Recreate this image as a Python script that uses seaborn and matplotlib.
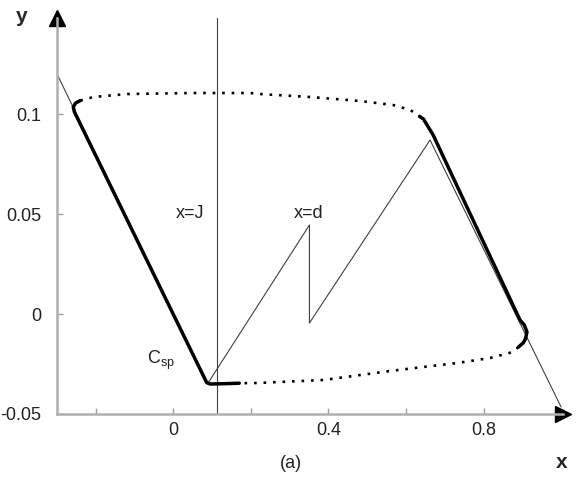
import matplotlib
matplotlib.use('Agg')
import matplotlib.pyplot as plt
import seaborn as sns
import pandas as pd

# limit cycle, thick parts (left branch with its corners, right branch)
left_x = [0.17, 0.14, 0.095, 0.086, -0.255, -0.258, -0.252, -0.24]
left_y = [-0.0346, -0.0348, -0.035, -0.0343, 0.101, 0.1035, 0.1055, 0.1067]
right_x = [0.635, 0.645, 0.67, 0.894, 0.905, 0.912, 0.908, 0.902, 0.89]
right_y = [0.0988, 0.0975, 0.0895, -0.003, -0.0055, -0.009, -0.0125, -0.0145, -0.0165]

# limit cycle, dotted parts (top and bottom)
top_x = [-0.24, -0.206, -0.119, 0.052, 0.198, 0.224, 0.353, 0.482, 0.567, 0.611, 0.635]
top_y = [0.1067, 0.1085, 0.110, 0.1105, 0.1105, 0.110, 0.1085, 0.1065, 0.1045, 0.102, 0.0988]
bottom_x = [0.89, 0.876, 0.817, 0.732, 0.644, 0.559, 0.387, 0.216, 0.17]
bottom_y = [-0.0165, -0.019, -0.022, -0.0245, -0.0265, -0.0285, -0.033, -0.0345, -0.0346]

# thin sawtooth trajectory
traj_x = [-0.3, 0.088, 0.351, 0.351, 0.662, 1.0]
traj_y = [0.12, -0.035, 0.0445, -0.0045, 0.087, -0.0465]

J = 0.113
x_ticks = [0, 0.4, 0.8]
x_minor = [-0.2, 0.2, 0.6]
y_ticks = [-0.05, 0, 0.05, 0.1]
y_labels = ['-0.05', '0', '0.05', '0.1']

sns.set_style('white')
plt.rcParams['font.family'] = ['Liberation Sans', 'DejaVu Sans']
plt.rcParams['mathtext.fontset'] = 'custom'
plt.rcParams['mathtext.rm'] = 'Liberation Sans'

fig = plt.figure(figsize=(5.81, 4.79), dpi=100)
ax = fig.add_axes([0.0981, 0.1357, 0.871, 0.8267])

sns.lineplot(x=traj_x, y=traj_y, sort=False, estimator=None, color='#404040', lw=0.8, ax=ax)
sns.lineplot(x=[J, J], y=[-0.05, 0.148], sort=False, estimator=None, color='#404040', lw=0.8, ax=ax)

for xs, ys in [(left_x, left_y), (right_x, right_y)]:
    df = pd.DataFrame({'x': xs, 'y': ys})
    sns.lineplot(data=df, x='x', y='y', sort=False, estimator=None, color='black', lw=2.5, ax=ax,
                 solid_capstyle='round', solid_joinstyle='round')
for xs, ys in [(top_x, top_y), (bottom_x, bottom_y)]:
    df = pd.DataFrame({'x': xs, 'y': ys})
    sns.lineplot(data=df, x='x', y='y', sort=False, estimator=None, color='black', lw=1.9, ax=ax,
                 linestyle=(0, (1.0, 2.6)))

ax.set_xlim(-0.3, 1.005)
ax.set_ylim(-0.05, 0.148)
ax.set_xticks(x_ticks)
ax.set_xticklabels(['0', '0.4', '0.8'])
ax.set_xticks(x_minor, minor=True)
ax.set_yticks(y_ticks)
ax.set_yticklabels(y_labels)
ax.set_xlabel('')
ax.set_ylabel('')

for s in ['top', 'right']:
    ax.spines[s].set_visible(False)
for s in ['left', 'bottom']:
    ax.spines[s].set_color('#b0b0b0')
    ax.spines[s].set_linewidth(1.8)
ax.tick_params(which='both', direction='in', length=4, width=1, color='#a0a0a0',
               labelsize=13, labelcolor='#222222')
ax.tick_params(axis='x', which='both', bottom=True, pad=6)
ax.tick_params(axis='y', left=True, pad=11)

# axis arrow heads
ax.plot([1], [0], marker='>', ms=12, color='black', transform=ax.transAxes, clip_on=False)
ax.plot([0], [1], marker='^', ms=12, color='black', transform=ax.transAxes, clip_on=False)

ax.text(0.044, 0.0505, 'x=J', ha='center', va='center', fontsize=13, color='#222222')
ax.text(0.348, 0.0505, 'x=d', ha='center', va='center', fontsize=13, color='#222222')
ax.text(-0.067, -0.023, r'C$_{\mathregular{sp}}$', ha='left', va='center', fontsize=13, color='#222222')

fig.text(562 / 581, 1 - 462 / 479, 'x', ha='center', va='center', fontsize=15, fontweight='bold')
fig.text(22 / 581, 1 - 17 / 479, 'y', ha='center', va='center', fontsize=15, fontweight='bold')
fig.text(291 / 581, 1 - 463 / 479, '(a)', ha='center', va='center', fontsize=13, color='#222222')

fig.savefig('out.png', dpi=100)
